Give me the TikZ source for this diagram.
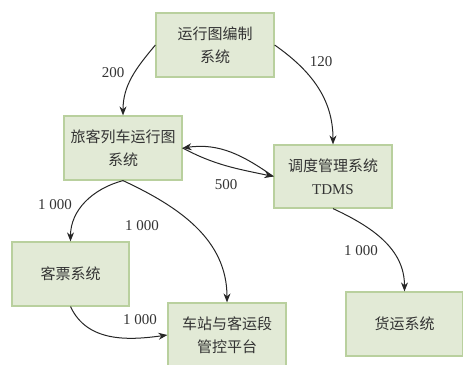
\documentclass[tikz,border=0pt]{standalone}
\usepackage{fontspec}
\setmainfont{Liberation Serif}
\newfontfamily\cjk{Noto Sans CJK SC}
\usetikzlibrary{arrows.meta}
\definecolor{boxfill}{HTML}{E2EAD6}
\definecolor{boxline}{HTML}{B9D09E}
\definecolor{txt}{HTML}{333333}
\tikzset{
  sysbox/.style={draw=boxline, fill=boxfill, line width=1.2pt, minimum width=118pt, minimum height=64pt, inner sep=1pt, align=center, text=txt, font=\cjk\fontsize{15}{23}\selectfont},
  flow/.style={-{Stealth[length=9pt,width=7pt]}, line width=1pt, black!85},
  num/.style={text=txt, font=\fontsize{15}{18}\selectfont, inner sep=0pt}
}
\begin{document}
\begin{tikzpicture}[x=1pt,y=1pt]
\useasboundingbox (0,0) rectangle (463,364);
\node[sysbox] (b1) at (215,319) {运行图编制\\系统};
\node[sysbox] (b2) at (123,216) {旅客列车运行图\\系统};
\node[sysbox, minimum height=63pt] (b3) at (333,187.5) {调度管理系统\\{\rmfamily TDMS}};
\node[sysbox, minimum width=117pt] (b4) at (70.5,90) {客票系统};
\node[sysbox] (b5) at (227,29) {车站与客运段\\管控平台};
\node[sysbox, minimum width=117pt] (b6) at (404.5,40) {货运系统};

\draw[flow] (b1.west) to[out=230, in=90] (b2.north);
\draw[flow] (b1.east) to[out=-35, in=90] (b3.north);
\draw[flow] (b3.west) to[out=145, in=8] (b2.east);
\draw[flow] (b2.east) to[out=-28, in=168] (b3.west);
\draw[flow] (b2.south) to[out=195, in=90] (b4.north);
\draw[flow] (b2.south) to[out=-25, in=90] (b5.north);
\draw[flow] (b4.south) to[out=-65, in=188] (b5.west);
\draw[flow] (b3.south) to[out=-25, in=90] (b6.north);

\node[num] (l1) at (113,291) {200};
\node[num] (l2) at (321,302) {120};
\node[num] (l3) at (226,179) {500};
\node[num] (l4) at (55,159) {1 000};
\node[num] (l5) at (142,138) {1 000};
\node[num] (l6) at (140,44) {1 000};
\node[num] (l7) at (361,113) {1 000};
\end{tikzpicture}
\end{document}
